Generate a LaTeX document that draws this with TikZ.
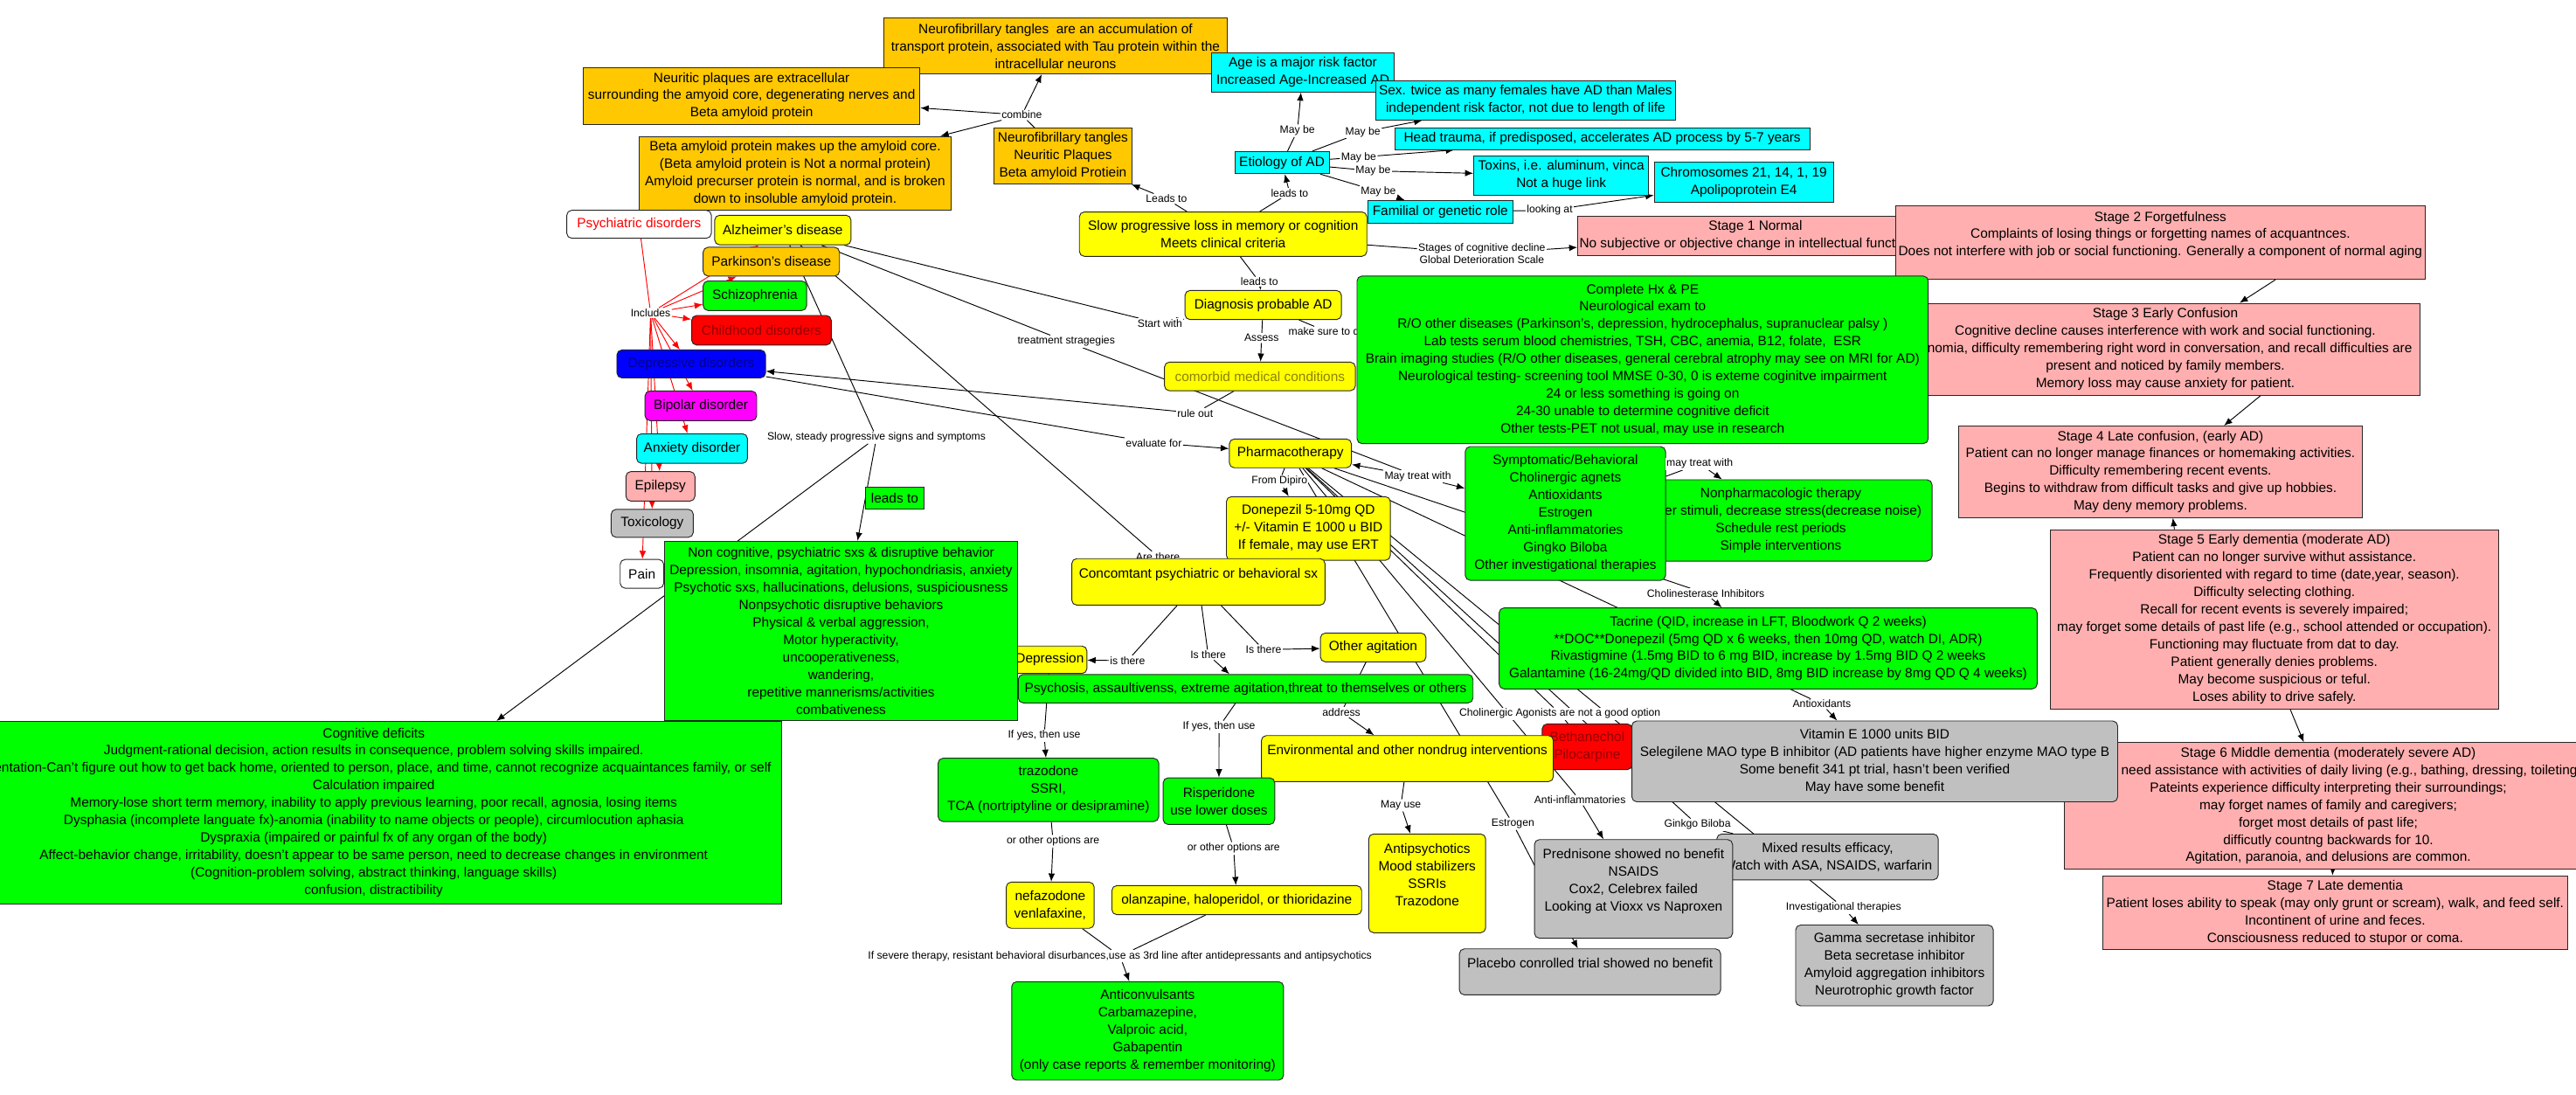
\documentclass[tikz,border=0pt]{standalone}
\usepackage{fontspec}
\setmainfont{Liberation Sans}
\usetikzlibrary{arrows.meta,backgrounds}

\definecolor{cmorange}{RGB}{255,200,0}
\definecolor{cmyellow}{RGB}{255,255,0}
\definecolor{cmgreen}{RGB}{0,255,0}
\definecolor{cmcyan}{RGB}{0,255,255}
\definecolor{cmpink}{RGB}{255,175,175}
\definecolor{cmgray}{RGB}{192,192,192}
\definecolor{cmblue}{RGB}{0,0,255}
\definecolor{cmnavy}{RGB}{0,0,140}
\definecolor{cmmagenta}{RGB}{255,0,255}
\definecolor{cmred}{RGB}{255,0,0}
\definecolor{cmdarkred}{RGB}{150,0,0}
\definecolor{cmolive}{RGB}{140,130,0}

\begin{document}
\begin{tikzpicture}[x=1pt, y=-1pt, >={Latex[length=5pt,width=4pt]},
  font=\fontsize{8.2}{10.6}\selectfont,
  cbox/.style={draw=black!85, line width=0.5pt, align=center, inner sep=1pt},
  sqbox/.style={cbox},
  rbox/.style={cbox, rounded corners=3pt},
  sz/.style 2 args={minimum width=#1pt, minimum height=#2pt},
  lbl/.style={fill=white, inner sep=0.6pt, align=center, font=\fontsize{6.5}{7.9}\selectfont},
  lnk/.style={draw=black, line width=0.5pt},
  arr/.style={lnk, ->},
  redarr/.style={draw=red, line width=0.5pt, ->}]
  \useasboundingbox (0,0) rectangle (1568,666);
  \clip (0,0) rectangle (1568,666);

  % pathology
  \node[sqbox, fill=cmorange, sz={209}{34}] (nft) at (642.5,28) {Neurofibrillary tangles\ \ are an accumulation of\\transport protein, associated with Tau protein within the\\intracellular neurons};
  \node[sqbox, fill=cmorange, sz={205}{35}] (np) at (457.5,58.5) {Neuritic plaques are extracellular\\surrounding the amyoid core, degenerating nerves and\\Beta amyloid protein};
  \node[sqbox, fill=cmorange, sz={190}{45}] (ba) at (484,105.5) {Beta amyloid protein makes up the amyloid core.\\(Beta amyloid protein is Not a normal protein)\\Amyloid precurser protein is normal, and is broken\\down to insoluble amyloid protein.};
  \node[sqbox, fill=cmorange, sz={84}{34}] (nnb) at (647,95) {Neurofibrillary tangles\\Neuritic Plaques\\Beta amyloid Protiein};
  \node[lbl] (combine) at (622,70) {combine};
  \node[lbl] (leadsA) at (710,121) {Leads to};

  % psychiatric disorders
  \node[rbox, fill=white, text=red, sz={88}{17}] (psy) at (389,136.5) {Psychiatric disorders};
  \node[rbox, fill=cmyellow, sz={83}{18}] (alz) at (476.5,140) {Alzheimer's disease};
  \node[rbox, fill=cmorange, sz={83}{17.5}] (park) at (469.5,159.25) {Parkinson's disease};
  \node[rbox, fill=cmgreen, sz={63}{18}] (schz) at (459.5,180) {Schizophrenia};
  \node[rbox, fill=cmred, text=cmdarkred, sz={85}{18}] (child) at (463.5,201) {Childhood disorders};
  \node[rbox, fill=cmblue, text=cmnavy, sz={90.5}{17}] (dep) at (420.75,221.5) {Depressive disorders};
  \node[rbox, fill=cmmagenta, sz={68}{18}] (bip) at (426.6,247) {Bipolar disorder};
  \node[rbox, fill=cmcyan, sz={67.5}{18}] (anx) at (421.25,273) {Anxiety disorder};
  \node[rbox, fill=cmpink, sz={42}{18}] (epi) at (402,296) {Epilepsy};
  \node[rbox, fill=cmgray, sz={50}{17}] (tox) at (397,318.5) {Toxicology};
  \node[rbox, fill=white, sz={26.5}{17.5}] (pain) at (390.75,349.25) {Pain};
  \node[lbl] (inc) at (396,190.5) {Includes};

  % etiology
  \node[rbox, fill=cmyellow, sz={175}{27}] (slow) at (744.5,142.5) {Slow progressive loss in memory or cognition\\Meets clinical criteria};
  \node[sqbox, fill=cmcyan, sz={57.4}{13.5}] (etio) at (780.3,99) {Etiology of AD};
  \node[sqbox, fill=cmcyan, sz={110.9}{24}] (age) at (793.05,44) {Age is a major risk factor\\Increased Age-Increased AD};
  \node[sqbox, fill=cmcyan, sz={182.2}{24}] (sex) at (928.6,61) {Sex. twice as many females have AD than Males\\independent risk factor, not due to length of life};
  \node[sqbox, fill=cmcyan, sz={252.6}{13.3}] (head) at (975.3,84.35) {Head trauma, if predisposed, accelerates AD process by 5-7 years};
  \node[sqbox, fill=cmcyan, sz={106.6}{23.8}] (toxins) at (950.3,106.8) {Toxins, i.e. aluminum, vinca\\Not a huge link};
  \node[sqbox, fill=cmcyan, sz={109.1}{24}] (chrom) at (1061.45,110.9) {Chromosomes 21, 14, 1, 19\\Apolipoprotein E4};
  \node[sqbox, fill=cmcyan, sz={88.6}{13.8}] (fam) at (876.7,128.9) {Familial or genetic role};
  \node[lbl] (leadsB) at (785,117.5) {leads to};
  \node[lbl] (mb1) at (789.7,79.6) {May be};
  \node[lbl] (mb2) at (829.6,80.3) {May be};
  \node[lbl] (mb3) at (827,95.7) {May be};
  \node[lbl] (mb4) at (835.8,104) {May be};
  \node[lbl] (mb5) at (839,116.5) {May be};
  \node[lbl] (look) at (943.3,128) {looking at};

  % stages
  \node[lbl] (gds) at (902,154.3) {Stages of cognitive decline\\Global Deterioration Scale};
  \node[sqbox, fill=cmpink, sz={215}{23.9}] (st1) at (1068.5,143.55) {Stage 1 Normal\\No subjective or objective change in intellectual functioning};
  \node[sqbox, fill=cmpink, sz={322}{45}] (st2) at (1315,147.5) {Stage 2 Forgetfulness\\Complaints of losing things or forgetting names of acquantnces.\\Does not interfere with job or social functioning. Generally a component of normal aging\\ \mbox{}};
  \node[sqbox, fill=cmpink, sz={310}{56}] (st3) at (1318,212.6) {Stage 3 Early Confusion\\Cognitive decline causes interference with work and social functioning.\\Anomia, difficulty remembering right word in conversation, and recall difficulties are\\present and noticed by family members.\\Memory loss may cause anxiety for patient.};
  \node[sqbox, fill=cmpink, sz={245.5}{55.7}] (st4) at (1315.05,287.15) {Stage 4 Late confusion, (early AD)\\Patient can no longer manage finances or homemaking activities.\\Difficulty remembering recent events.\\Begins to withdraw from difficult tasks and give up hobbies.\\May deny memory problems.};
  \node[sqbox, fill=cmpink, sz={272.7}{109}] (st5) at (1384.35,376.9) {Stage 5 Early dementia (moderate AD)\\Patient can no longer survive withut assistance.\\Frequently disoriented with regard to time (date,year, season).\\Difficulty selecting clothing.\\Recall for recent events is severely impaired;\\may forget some details of past life (e.g., school attended or occupation).\\Functioning may fluctuate from dat to day.\\Patient generally denies problems.\\May become suspicious or teful.\\Loses ability to drive safely.};
  \node[sqbox, fill=cmpink, sz={321.6}{77}] (st6) at (1417.2,490.5) {Stage 6 Middle dementia (moderately severe AD)\\\makebox[300pt][l]{\hspace{24pt}need assistance with activities of daily living (e.g., bathing, dressing, toileting}\\Pateints experience difficulty interpreting their surroundings;\\may forget names of family and caregivers;\\forget most details of past life;\\difficutly countng backwards for 10.\\Agitation, paranoia, and delusions are common.};
  \node[sqbox, fill=cmpink, sz={282.7}{45}] (st7) at (1421.35,555.5) {Stage 7 Late dementia\\Patient loses ability to speak (may only grunt or scream), walk, and feed self.\\Incontinent of urine and feces.\\Consciousness reduced to stupor or coma.};

  % diagnosis
  \node[lbl] (leadsC) at (766.6,171.6) {leads to};
  \node[rbox, fill=cmyellow, sz={95.2}{17.7}] (diag) at (768.9,185.65) {Diagnosis probable AD};
  \node[lbl] (start) at (706,196.8) {Start with};
  \node[lbl] (trt) at (649,207.8) {treatment stragegies};
  \node[lbl] (assess) at (767.9,205.7) {Assess};
  \node[lbl] (mksure) at (807.6,201.8) {make sure to do};
  \node[rbox, fill=cmgreen, sz={347.7}{102}] (hx) at (999.85,219) {Complete Hx \& PE\\Neurological exam to\\R/O other diseases (Parkinson's, depression, hydrocephalus, supranuclear palsy )\\Lab tests serum blood chemistries, TSH, CBC, anemia, B12, folate,\ \ ESR\\Brain imaging studies (R/O other diseases, general cerebral atrophy may see on MRI for AD)\\Neurological testing- screening tool MMSE 0-30, 0 is exteme coginitve impairment\\24 or less something is going on\\24-30 unable to determine cognitive deficit\\Other tests-PET not usual, may use in research};
  \node[rbox, fill=cmyellow, text=cmolive, sz={116.2}{17.4}] (comorb) at (766.9,229.1) {comorbid medical conditions};
  \node[lbl] (rule) at (727.5,251.4) {rule out};
  \node[lbl] (evalf) at (702.3,269.5) {evaluate for};

  % pharmacotherapy
  \node[rbox, fill=cmyellow, sz={74.3}{17.5}] (pharma) at (785.45,275.95) {Pharmacotherapy};
  \node[lbl] (dipiro) at (778.8,292.9) {From Dipiro};
  \node[rbox, fill=cmyellow, sz={99.8}{38.7}] (donep) at (796.4,321.65) {Donepezil 5-10mg QD\\+/- Vitamin E 1000 u BID\\If female, may use ERT};
  \node[lbl] (mtw) at (863,290) {May treat with};
  \node[rbox, fill=cmgreen, sz={184}{49.5}] (nonph) at (1084,316.75) {Nonpharmacologic therapy\\Lower stimuli, decrease stress(decrease noise)\\Schedule rest periods\\Simple interventions};
  \node[rbox, fill=cmgreen, sz={121.9}{81.4}] (symp) at (952.85,312.5) {Symptomatic/Behavioral\\Cholinergic agnets\\Antioxidants\\Estrogen\\Anti-inflammatories\\Gingko Biloba\\Other investigational therapies};
  \node[lbl] (mtw2) at (1034.6,282.3) {may treat with};
  \node[lbl] (chei) at (1038.3,361.2) {Cholinesterase Inhibitors};
  \node[rbox, fill=cmgreen, sz={327.5}{49.3}] (tacr) at (1076.25,394.65) {Tacrine (QID, increase in LFT, Bloodwork Q 2 weeks)\\**DOC**Donepezil (5mg QD x 6 weeks, then 10mg QD, watch DI, ADR)\\Rivastigmine (1.5mg BID to 6 mg BID, increase by 1.5mg BID Q 2 weeks\\Galantamine (16-24mg/QD divided into BID, 8mg BID increase by 8mg QD Q 4 weeks)};
  \node[lbl] (cago) at (949.5,434.4) {Cholinergic Agonists are not a good option};
  \node[lbl] (antiox) at (1108.9,428.5) {Antioxidants};
  \node[rbox, fill=cmred, text=cmdarkred, sz={54.8}{27.8}] (betha) at (966.1,454.5) {Bethanechol\\Pilocarpine};
  \node[rbox, fill=cmgray, sz={295.7}{49.2}] (vite) at (1141.15,463.4) {Vitamin E 1000 units BID\\Selegilene MAO type B inhibitor (AD patients have higher enzyme MAO type B\\Some benefit 341 pt trial, hasn't been verified\\May have some benefit};
  \node[lbl] (antiinf) at (961.7,487) {Anti-inflammatories};
  \node[lbl] (estro) at (920.9,501.4) {Estrogen};
  \node[lbl] (ginkgo) at (1033.2,502) {Ginkgo Biloba};
  \node[rbox, fill=cmgray, sz={134.8}{27.9}] (mixed) at (1112.4,521.55) {Mixed results efficacy,\\Watch with ASA, NSAIDS, warfarin};
  \node[rbox, fill=cmgray, sz={120.6}{60}] (pred) at (994.3,541) {Prednisone showed no benefit\\NSAIDS\\Cox2, Celebrex failed\\Looking at Vioxx vs Naproxen\\ \mbox{}};
  \node[rbox, fill=cmgray, sz={159}{28}] (placebo) at (967.8,591.5) {Placebo conrolled trial showed no benefit\\ \mbox{}};
  \node[lbl] (invest) at (1122.2,552.5) {Investigational therapies};
  \node[rbox, fill=cmgray, sz={120.3}{49.2}] (gamma) at (1153.15,587.6) {Gamma secretase inhibitor\\Beta secretase inhibitor\\Amyloid aggregation inhibitors\\Neurotrophic growth factor};

  % concomitant symptoms
  \node[lbl] (arethere) at (704.8,338.7) {Are there};
  \node[rbox, fill=cmyellow, sz={154.1}{28.3}] (conc) at (729.45,354.15) {Concomtant psychiatric or behavioral sx\\ \mbox{}};
  \node[rbox, fill=cmyellow, sz={45.2}{16.7}] (depr) at (639,401.55) {Depression};
  \node[lbl] (is1) at (686.3,402.1) {is there};
  \node[lbl] (is2) at (735.4,398.6) {Is there};
  \node[lbl] (is3) at (769.1,395.4) {Is there};
  \node[rbox, fill=cmyellow, sz={64.3}{17.5}] (otherag) at (835.85,394.05) {Other agitation};
  \node[rbox, fill=cmgreen, sz={276.8}{17.3}] (psych) at (758.2,419.15) {Psychosis, assaultivenss, extreme agitation,threat to themselves or others};
  \node[lbl] (address) at (816.5,433.5) {address};
  \node[rbox, fill=cmyellow, sz={177.7}{28}] (env) at (856.65,461.7) {Environmental and other nondrug interventions\\ \mbox{}};
  \node[lbl] (mayuse) at (852.7,490.2) {May use};
  \node[rbox, fill=cmyellow, sz={71.2}{60.1}] (antips) at (868.7,537.65) {Antipsychotics\\Mood stabilizers\\SSRIs\\Trazodone\\ \mbox{}};
  \node[lbl] (ify1) at (635.6,447.7) {If yes, then use};
  \node[lbl] (ify2) at (742,442.4) {If yes, then use};
  \node[rbox, fill=cmgreen, sz={134.3}{38.5}] (traz) at (638.15,480.75) {trazodone\\SSRI,\\TCA (nortriptyline or desipramine)};
  \node[rbox, fill=cmgreen, sz={67.9}{28.4}] (risp) at (741.95,487.6) {Risperidone\\use lower doses};
  \node[lbl] (ooa1) at (641,512) {or other options are};
  \node[lbl] (ooa2) at (750.9,516.3) {or other options are};
  \node[rbox, fill=cmyellow, sz={53.5}{28.1}] (nefaz) at (639.25,550.95) {nefazodone\\venlafaxine,};
  \node[rbox, fill=cmyellow, sz={152}{17.7}] (olanz) at (752.8,547.85) {olanzapine, haloperidol, or thioridazine};
  \node[lbl] (severe) at (681.7,581.9) {If severe therapy, resistant behavioral disurbances,use as 3rd line after antidepressants and antipsychotics};
  \node[rbox, fill=cmgreen, sz={165.5}{59.9}] (anticonv) at (698.55,627.45) {Anticonvulsants\\Carbamazepine,\\Valproic acid,\\Gabapentin\\(only case reports \& remember monitoring)};

  % signs and symptoms
  \node[lbl] (steady) at (533.5,266.3) {Slow, steady progressive signs and symptoms};
  \node[sqbox, fill=cmgreen, sz={36}{13.1}] (leadsG) at (544.6,303.15) {leads to};
  \node[sqbox, fill=cmgreen, sz={214.7}{109.1}] (noncog) at (511.95,383.95) {Non cognitive, psychiatric sxs \& disruptive behavior\\Depression, insomnia, agitation, hypochondriasis, anxiety\\Psychotic sxs, hallucinations, delusions, suspiciousness\\Nonpsychotic disruptive behaviors\\Physical \& verbal aggression,\\Motor hyperactivity,\\uncooperativeness,\\wandering,\\repetitive mannerisms/activities\\combativeness};
  \node[sqbox, fill=cmgreen, sz={497}{111}] (cog) at (227.5,494.5) {Cognitive deficits\\Judgment-rational decision, action results in consequence, problem solving skills impaired.\\Orientation-Can't figure out how to get back home, oriented to person, place, and time, cannot recognize acquaintances family, or self\\Calculation impaired\\Memory-lose short term memory, inability to apply previous learning, poor recall, agnosia, losing items\\Dysphasia (incomplete languate fx)-anomia (inability to name objects or people), circumlocution aphasia\\Dyspraxia (impaired or painful fx of any organ of the body)\\Affect-behavior change, irritability, doesn't appear to be same person, need to decrease changes in environment\\(Cognition-problem solving, abstract thinking, language skills)\\confusion, distractibility};

  \begin{pgfonlayer}{background}
    \fill[white] (0,0) rectangle (1568,666);
    % pathology links
    \draw[lnk] (nnb) -- (combine);
    \draw[arr] (combine) -- (nft);
    \draw[arr] (combine) -- (np);
    \draw[arr] (combine) -- (ba);
    \draw[lnk] (slow) -- (leadsA);
    \draw[arr] (leadsA) -- (nnb);
    % includes
    \draw[draw=red, line width=0.5pt] (psy) -- (inc);
    \foreach \d in {alz,park,schz,child,dep,bip,anx,epi,tox,pain}
      \draw[redarr] (inc) -- (\d);
    % etiology links
    \draw[lnk] (slow) -- (leadsB);
    \draw[arr] (leadsB) -- (etio);
    \draw[lnk] (etio) -- (mb1);
    \draw[arr] (mb1) -- (age);
    \draw[lnk] (etio) -- (mb2);
    \draw[arr] (mb2) -- (sex);
    \draw[lnk] (etio) -- (mb3);
    \draw[arr] (mb3) -- (head);
    \draw[lnk] (etio) -- (mb4);
    \draw[arr] (mb4) -- (toxins);
    \draw[lnk] (etio) -- (mb5);
    \draw[arr] (mb5) -- (fam);
    \draw[lnk] (fam) -- (look);
    \draw[arr] (look) -- (chrom);
    % stages
    \draw[lnk] (slow) -- (gds);
    \draw[arr] (gds) -- (st1);
    \draw[arr] (st2.-18) -- (st3.32);
    \draw[arr] (st3.-26) -- (st4.36);
    \draw[arr] (st5.138) -- (st4.-75);
    \draw[arr] (st5.-80) -- (st6.111);
    \draw[arr] (st6.-86) -- (st7.94);
    % diagnosis and treatment
    \draw[lnk] (slow) -- (leadsC);
    \draw[arr] (leadsC) -- (diag);
    \draw[lnk] (alz) -- (start);
    \draw[arr] (start) -- (diag);
    \draw[lnk] (diag) -- (assess);
    \draw[arr] (assess) -- (comorb);
    \draw[lnk] (diag) -- (mksure);
    \draw[lnk] (comorb) -- (rule);
    \draw[arr] (rule) -- (dep);
    \draw[lnk] (dep) -- (evalf);
    \draw[arr] (evalf) -- (pharma);
    \draw[lnk] (alz) -- (trt);
    \draw[lnk] (trt) -- (mtw);
    \draw[arr] (mtw) -- (pharma);
    \draw[arr] (mtw) -- (symp);
    \draw[lnk] (symp) -- (mtw2);
    \draw[arr] (mtw2) -- (nonph);
    \draw[lnk] (pharma) -- (dipiro);
    \draw[arr] (dipiro) -- (donep);
    \foreach \l in {chei,cago,antiox,antiinf,estro,ginkgo,invest}
      \draw[lnk] (pharma) -- (\l);
    \draw[arr] (chei) -- (tacr);
    \draw[lnk] (cago) -- (betha);
    \draw[arr] (antiox) -- (vite);
    \draw[arr] (antiinf) -- (pred);
    \draw[arr] (estro) -- (placebo);
    \draw[lnk] (ginkgo) -- (mixed);
    \draw[arr] (invest) -- (gamma);
    % concomitant symptoms
    \draw[lnk] (alz) -- (arethere);
    \draw[lnk] (arethere) -- (conc);
    \draw[lnk] (conc) -- (is1);
    \draw[arr] (is1) -- (depr);
    \draw[lnk] (conc) -- (is2);
    \draw[arr] (is2) -- (psych);
    \draw[lnk] (conc) -- (is3);
    \draw[arr] (is3) -- (otherag);
    \draw[lnk] (depr) -- (ify1);
    \draw[arr] (ify1) -- (traz);
    \draw[lnk] (psych) -- (ify2);
    \draw[arr] (ify2) -- (risp);
    \draw[lnk] (otherag) -- (address);
    \draw[arr] (address) -- (env);
    \draw[lnk] (env) -- (mayuse);
    \draw[arr] (mayuse) -- (antips);
    \draw[lnk] (traz) -- (ooa1);
    \draw[arr] (ooa1) -- (nefaz);
    \draw[lnk] (risp) -- (ooa2);
    \draw[arr] (ooa2) -- (olanz);
    \draw[lnk] (nefaz) -- (severe);
    \draw[lnk] (olanz) -- (severe);
    \draw[arr] (severe) -- (anticonv);
    % signs and symptoms
    \draw[lnk] (alz) -- (steady);
    \draw[arr] (steady) -- (noncog);
    \draw[arr] (steady) -- (cog);
  \end{pgfonlayer}
\end{tikzpicture}
\end{document}
